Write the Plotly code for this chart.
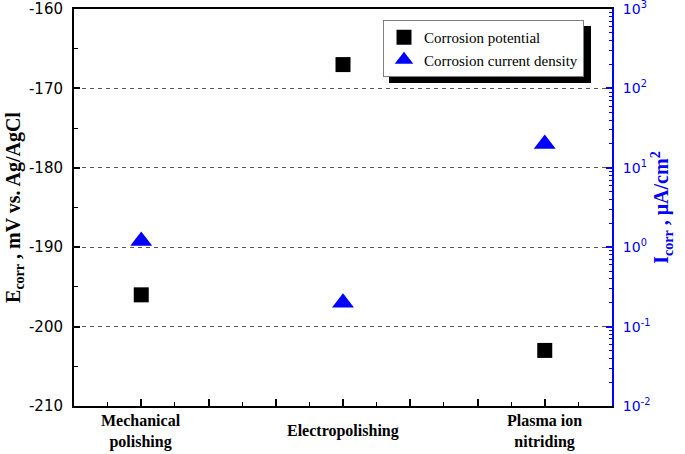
import plotly.graph_objects as go

# ---- data ----
categories = ["Mechanical<br>polishing", "Electropolishing", "Plasma ion<br>nitriding"]
cat_pos = [1, 2, 3]
e_corr = [-196, -167, -203]          # mV vs. Ag/AgCl
i_corr = [1.2, 0.2, 20]              # uA/cm2
left_tickvals = [-210, -200, -190, -180, -170, -160]
left_ticktext = ["-210", "-200", "-190", "-180", "-170", "-160"]
right_tickvals = [0.01, 0.1, 1, 10, 100, 1000]
right_ticktext = ["10<sup>-2</sup>", "10<sup>-1</sup>", "10<sup>0</sup>",
                  "10<sup>1</sup>", "10<sup>2</sup>", "10<sup>3</sup>"]

W, H = 685, 454
ML, MR, MT, MB = 74, 73, 9, 48
PW, PH = W - ML - MR, H - MT - MB

def px2paper_x(px):
    return (px - ML) / PW

def px2paper_y(py):
    return 1 - (py - MT) / PH

serif = "Liberation Serif"
sans = "DejaVu Sans"

fig = go.Figure()
fig.add_trace(go.Scatter(
    x=cat_pos, y=e_corr, mode="markers", name="Corrosion potential",
    marker=dict(symbol="square", size=15, color="black"),
    xaxis="x", yaxis="y"))
fig.add_trace(go.Scatter(
    x=cat_pos, y=i_corr, mode="markers", name="Corrosion current density",
    marker=dict(symbol="triangle-up", size=19, color="blue"),
    xaxis="x", yaxis="y2"))

# category labels
for pos, lab in zip(cat_pos, categories):
    fig.add_annotation(x=pos, y=px2paper_y(431), xref="x", yref="paper",
                       text="<b>%s</b>" % lab, showarrow=False,
                       xanchor="center", yanchor="middle",
                       font=dict(family=serif, size=16, color="black"))

# legend shadow
lg_l, lg_t, lg_w, lg_h = 383, 20, 202, 57
fig.add_shape(type="rect", xref="paper", yref="paper",
              x0=px2paper_x(lg_l + 6), x1=px2paper_x(lg_l + lg_w + 6),
              y0=px2paper_y(lg_t + lg_h + 6), y1=px2paper_y(lg_t + 6),
              fillcolor="black", line=dict(width=0), layer="above")

fig.update_layout(
    width=W, height=H,
    margin=dict(l=ML, r=MR, t=MT, b=MB, autoexpand=False),
    paper_bgcolor="white", plot_bgcolor="white",
    showlegend=True,
    legend=dict(x=px2paper_x(lg_l), y=px2paper_y(lg_t), xanchor="left", yanchor="top",
                bgcolor="white", bordercolor="#808080", borderwidth=1,
                font=dict(family=serif, size=15, color="black"),
                itemsizing="trace", tracegroupgap=0),
    xaxis=dict(range=[2/3, 10/3], showgrid=False, zeroline=False, automargin=False,
               showline=True, linecolor="black", linewidth=2, mirror=True,
               ticks="inside", tick0=2/3, dtick=1/3, ticklen=7, tickwidth=1.5,
               tickcolor="black", showticklabels=False,
               minor=dict(ticks="inside", dtick=1/6, ticklen=4, tickwidth=1,
                          tickcolor="black", showgrid=False)),
    yaxis=dict(range=[-210, -160], zeroline=False, automargin=False,
               tickvals=left_tickvals, ticktext=left_ticktext,
               showline=True, linecolor="black", linewidth=2,
               ticks="inside", ticklen=6, tickwidth=1.5, tickcolor="black",
               showgrid=True, gridcolor="#555555", gridwidth=1, griddash="4px,4px",
               tickfont=dict(family=sans, size=15, color="black"),
               ticklabelstandoff=6, ticklabeloverflow="allow",
               minor=dict(ticks="inside", dtick=5, ticklen=4, tickwidth=1,
                          tickcolor="black", showgrid=False),
               title=dict(text="<b>E<sub>corr</sub> , mV vs. Ag/AgCl</b>",
                          font=dict(family=serif, size=20, color="black"),
                          standoff=3)),
    yaxis2=dict(type="log", range=[-2, 3], overlaying="y", side="right",
                showgrid=False, zeroline=False, automargin=False,
                showline=True, linecolor="blue", linewidth=2,
                ticks="inside", ticklen=6, tickwidth=1.5, tickcolor="blue",
                tickvals=right_tickvals, ticktext=right_ticktext,
                tickfont=dict(family=sans, size=14, color="blue"),
                ticklabelstandoff=6, ticklabeloverflow="allow",
                minor=dict(ticks="inside", ticklen=3, tickwidth=1, tickcolor="blue",
                           dtick="D1", showgrid=False),
                title=dict(text="<b>I<sub>corr</sub> , \u03bcA/cm<sup>2</sup></b>",
                           font=dict(family=serif, size=20, color="blue"),
                           standoff=5)),
)

fig.write_html("out.html", config={"displayModeBar": False},
               post_script="document.body.style.margin='0px';")
